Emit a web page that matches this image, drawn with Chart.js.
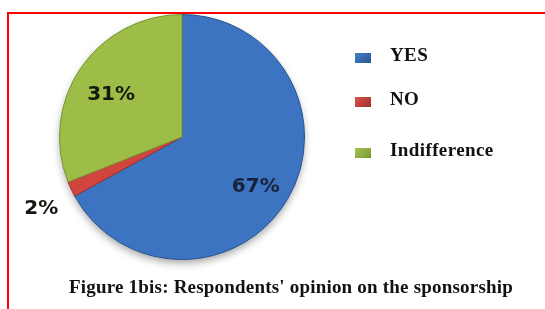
<!DOCTYPE html>
<html>
<head>
<meta charset="utf-8">
<script src="https://cdn.jsdelivr.net/npm/chart.js@4/dist/chart.umd.min.js"></script>
<style>
  html, body { margin: 0; padding: 0; background: #fff; overflow: hidden; }
  #wrap { position: relative; width: 545px; height: 309px; overflow: hidden; }
  #frame { position: absolute; left: 7px; top: 12px; width: 600px; height: 400px;
           border-top: 2px solid #ff0000; border-left: 2px solid #ff0000; }
  #chart { position: absolute; left: 0; top: 0; }
  .leg { position: absolute; left: 355px; font: bold 19px "Liberation Serif", "Times New Roman", serif;
         line-height: 19px; color: #111; white-space: nowrap; }
  .leg .box { position: absolute; left: 0; width: 16px; height: 10px; }
  .leg .txt { position: absolute; left: 35px; top: 0; letter-spacing: 0.4px; }
  #caption { position: absolute; left: 40px; width: 502px; top: 277px; text-align: center;
             font: bold 19px "Liberation Serif", "Times New Roman", serif; line-height: 19px;
             letter-spacing: 0.2px; color: #111; }
</style>
</head>
<body>
<div id="wrap">
  <div id="frame"></div>
  <canvas id="chart" width="545" height="309"></canvas>
  <div id="legend"></div>
  <div id="caption">Figure 1bis: Respondents' opinion on the sponsorship</div>
</div>
<script>
const labels = ['YES', 'NO', 'Indifference'];
const values = [67, 2, 31];

const baseColors = ['#3d74c2', '#d2443e', '#9dbd47'];
const rimColors = ['#28538f', '#a02e2a', '#779630'];
const lightColors = ['#4780cc', '#dc524c', '#a6c552'];

// top of each legend row (px)
const legendTops = [45, 89, 140];

function sliceFill(context) {
  const i = context.dataIndex;
  const chart = context.chart;
  const meta = chart.getDatasetMeta(0);
  const arc = meta.data[i];
  if (!arc || !chart.chartArea) return baseColors[i];
  const p = arc.getProps(['x', 'y', 'outerRadius'], true);
  if (!p.outerRadius) return baseColors[i];
  const g = chart.ctx.createRadialGradient(p.x, p.y, 0, p.x, p.y, p.outerRadius);
  g.addColorStop(0, lightColors[i]);
  g.addColorStop(0.85, baseColors[i]);
  g.addColorStop(1, rimColors[i]);
  return g;
}

const shadowPlugin = {
  id: 'pieShadow',
  beforeDatasetsDraw(chart) {
    const arc = chart.getDatasetMeta(0).data[0];
    if (!arc) return;
    const ctx = chart.ctx;
    ctx.save();
    ctx.shadowColor = 'rgba(0,0,0,0.4)';
    ctx.shadowBlur = 9;
    ctx.shadowOffsetY = 4;
    ctx.fillStyle = '#ffffff';
    ctx.beginPath();
    ctx.arc(arc.x, arc.y, arc.outerRadius - 1, 0, Math.PI * 2);
    ctx.fill();
    ctx.restore();
  }
};

const labelPlugin = {
  id: 'pctLabels',
  afterDatasetsDraw(chart) {
    const ctx = chart.ctx;
    const meta = chart.getDatasetMeta(0);
    const total = values.reduce((a, b) => a + b, 0);
    ctx.save();
    ctx.font = 'bold 20px "DejaVu Sans", sans-serif';
    ctx.textAlign = 'center';
    ctx.textBaseline = 'middle';
    meta.data.forEach((arc, i) => {
      const mid = (arc.startAngle + arc.endAngle) / 2;
      const share = values[i] / total;
      const r = arc.outerRadius * (share < 0.05 ? 1.27 : 0.7);
      const x = arc.x + Math.cos(mid) * r;
      const y = arc.y + Math.sin(mid) * r + 6;
      ctx.fillStyle = i === 0 ? '#18223a' : '#141a10';
      ctx.fillText(values[i] + '%', x, y);
    });
    ctx.restore();
  }
};

const chart = new Chart(document.getElementById('chart'), {
  type: 'pie',
  data: {
    labels: labels,
    datasets: [{
      data: values,
      backgroundColor: sliceFill,
      borderColor: rimColors,
      borderWidth: 1
    }]
  },
  options: {
    responsive: false,
    animation: false,
    layout: { padding: { left: 59, right: 240, top: 14, bottom: 49 } },
    plugins: {
      legend: { display: false },
      tooltip: { enabled: false }
    }
  },
  plugins: [shadowPlugin, labelPlugin]
});

const legendEl = document.getElementById('legend');
labels.forEach((name, i) => {
  const row = document.createElement('div');
  row.className = 'leg';
  row.style.top = legendTops[i] + 'px';
  const box = document.createElement('span');
  box.className = 'box';
  box.style.top = '8px';
  box.style.background = 'linear-gradient(135deg, ' + lightColors[i] + ', ' + rimColors[i] + ')';
  const txt = document.createElement('span');
  txt.className = 'txt';
  txt.textContent = name;
  row.appendChild(box);
  row.appendChild(txt);
  legendEl.appendChild(row);
});
</script>
</body>
</html>
